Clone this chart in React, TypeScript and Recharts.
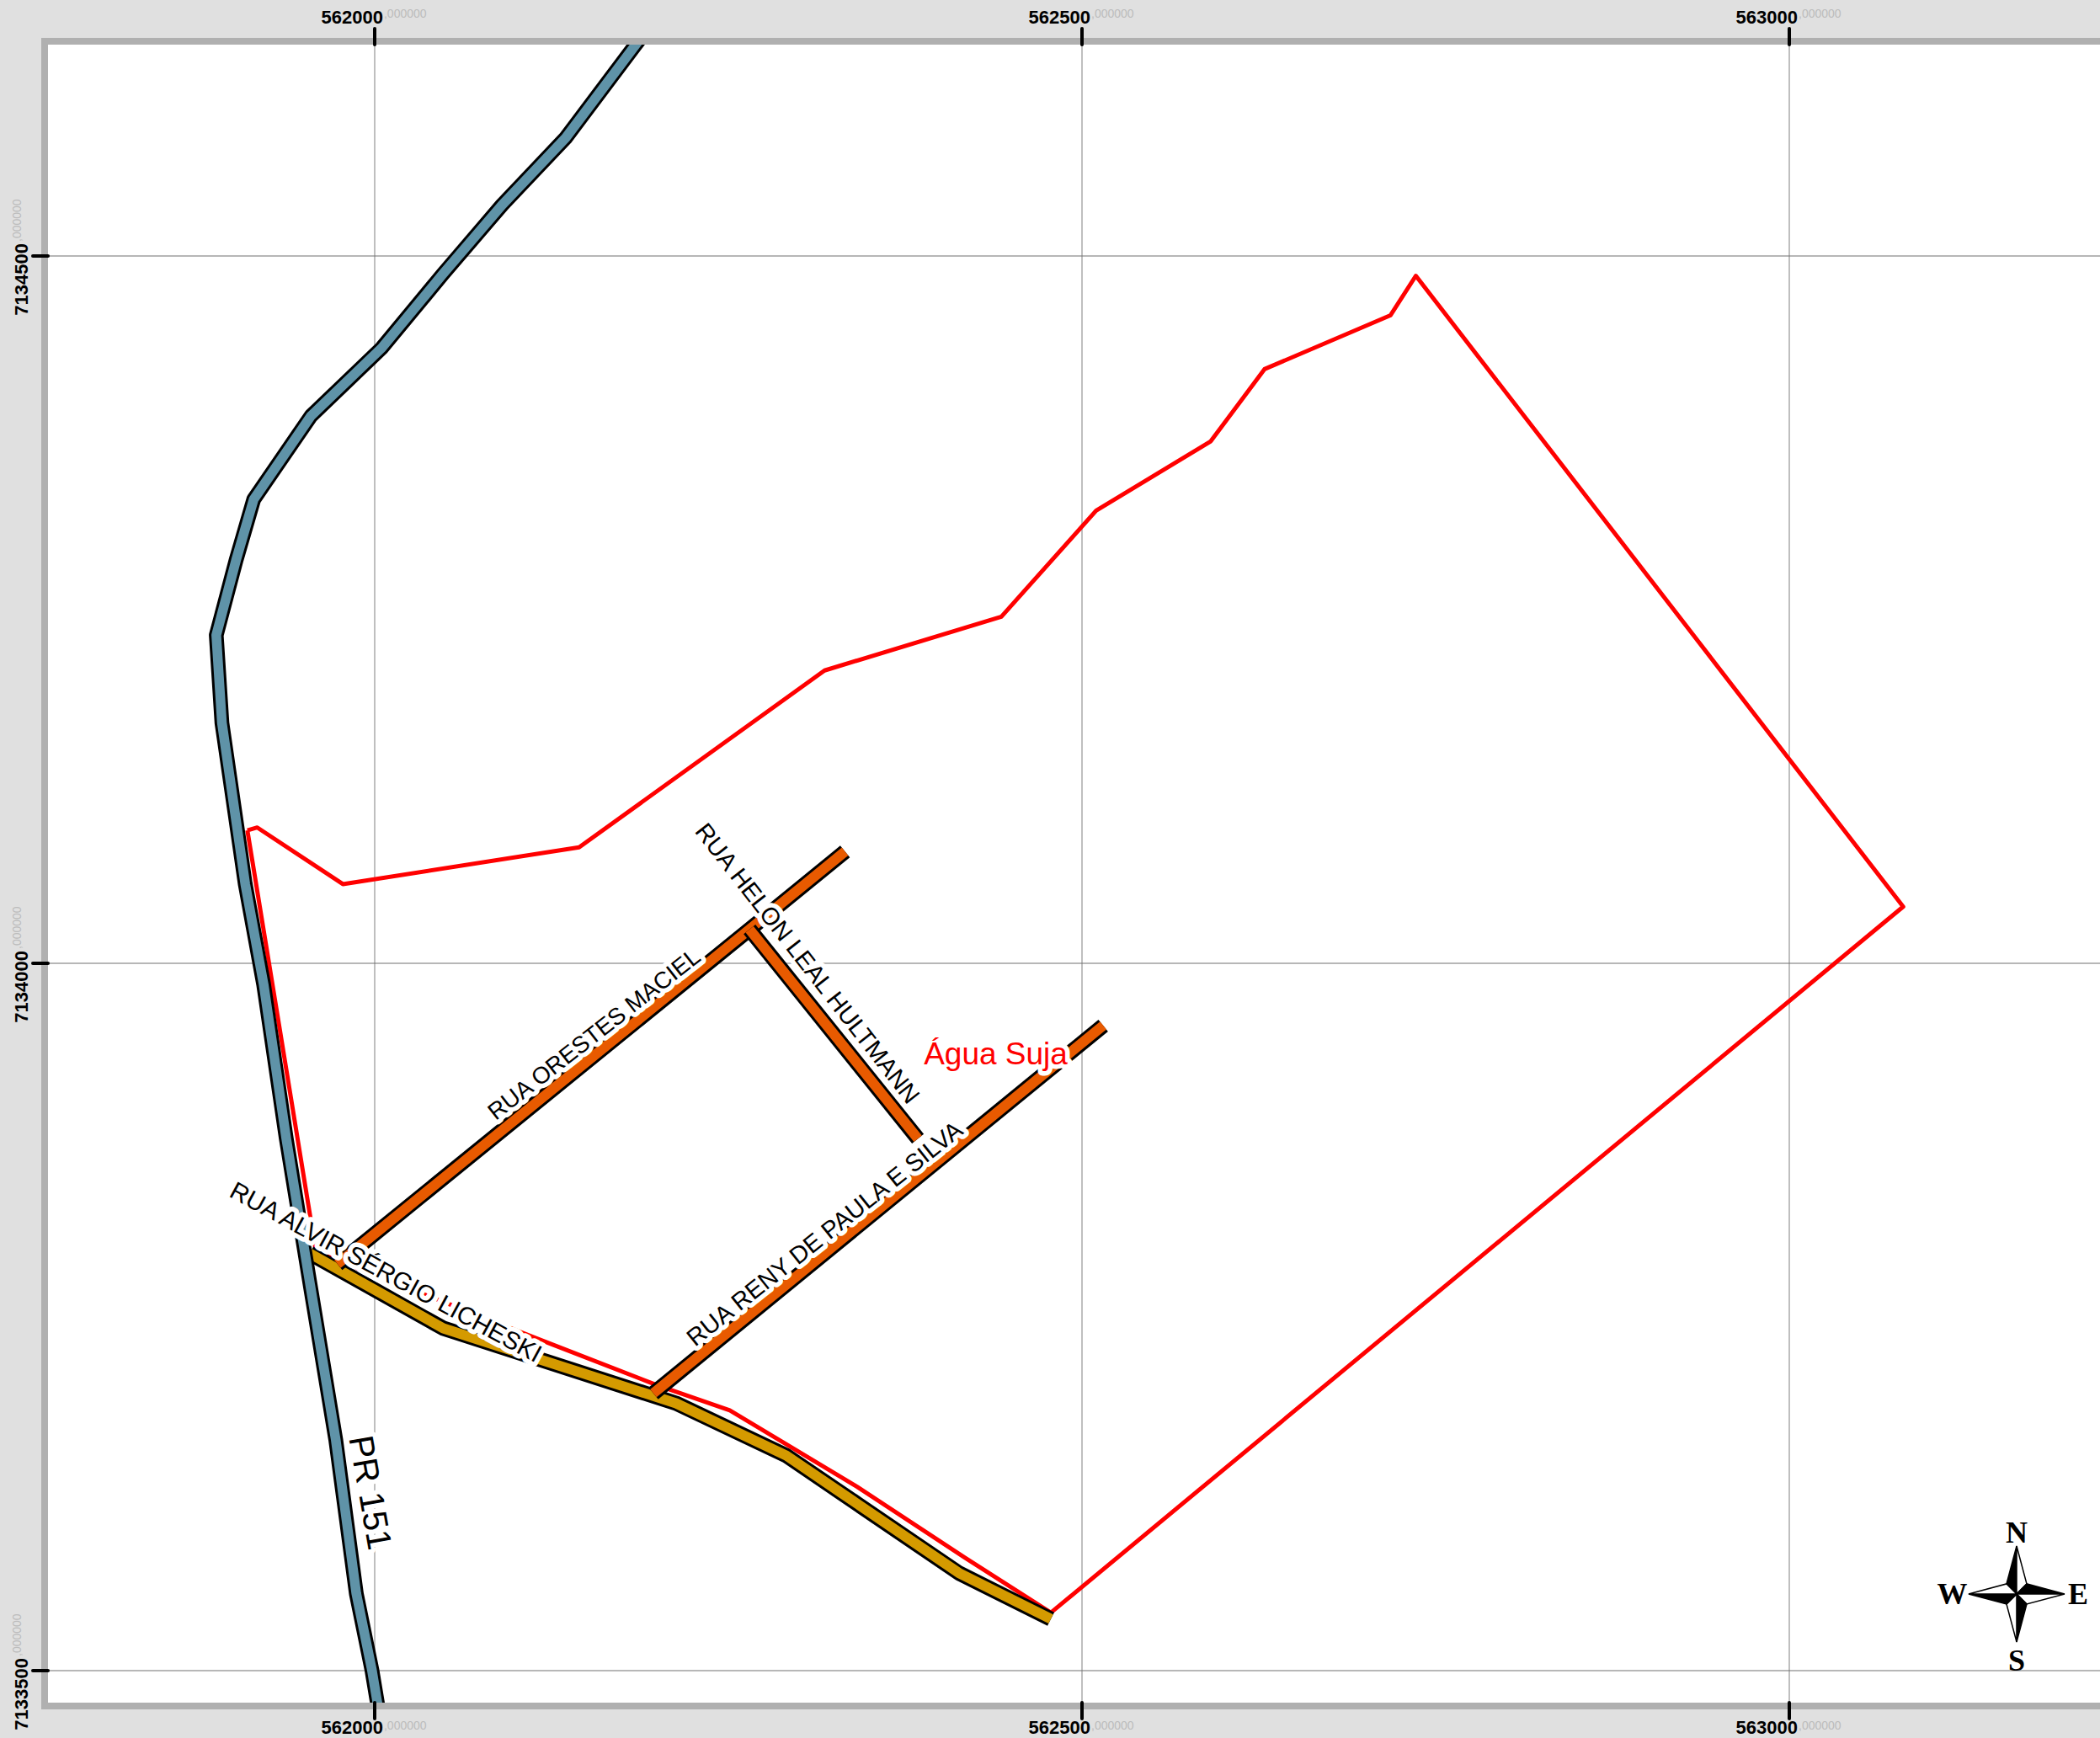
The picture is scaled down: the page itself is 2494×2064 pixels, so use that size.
import React from "react";
import {
  LineChart,
  Line,
  XAxis,
  YAxis,
  CartesianGrid,
  ReferenceDot,
} from "recharts";

const xTicks = [562000, 562500, 563000];
const yTicks = [7133500, 7134000, 7134500];

const aguaSuja = [
  { x: 561910, y: 7134094 },
  { x: 561917, y: 7134096 },
  { x: 561977.5, y: 7134056 },
  { x: 562144.5, y: 7134082 },
  { x: 562318, y: 7134207 },
  { x: 562443, y: 7134245 },
  { x: 562510, y: 7134320 },
  { x: 562591, y: 7134369 },
  { x: 562629, y: 7134420 },
  { x: 562718, y: 7134458 },
  { x: 562736, y: 7134486 },
  { x: 563080.5, y: 7134040 },
  { x: 562478, y: 7133541 },
  { x: 562417, y: 7133580 },
  { x: 562341, y: 7133630 },
  { x: 562251, y: 7133684 },
  { x: 562199, y: 7133702 },
  { x: 562114, y: 7133735 },
  { x: 561958.5, y: 7133796 },
  { x: 561910, y: 7134094 },
];

const pr151 = [
  { x: 562194, y: 7134662 },
  { x: 562135, y: 7134583.5 },
  { x: 562090, y: 7134536 },
  { x: 562048, y: 7134487 },
  { x: 562005, y: 7134435 },
  { x: 561955, y: 7134387 },
  { x: 561914.5, y: 7134328 },
  { x: 561902, y: 7134285 },
  { x: 561888, y: 7134232 },
  { x: 561892, y: 7134170 },
  { x: 561908.5, y: 7134056 },
  { x: 561921.5, y: 7133985 },
  { x: 561937.5, y: 7133876 },
  { x: 561954.5, y: 7133772 },
  { x: 561972.5, y: 7133663 },
  { x: 561987, y: 7133554.5 },
  { x: 561998, y: 7133500.6 },
  { x: 562004, y: 7133464.6 },
];

const ruaAlvir = [
  { x: 561954, y: 7133795 },
  { x: 562048.5, y: 7133742 },
  { x: 562213, y: 7133689 },
  { x: 562291, y: 7133652 },
  { x: 562413, y: 7133569 },
  { x: 562478, y: 7133536.5 },
];

const ruaOrestes = [
  { x: 561973.7, y: 7133787.4 },
  { x: 562265, y: 7134024 },
  { x: 562332.5, y: 7134079 },
];

const ruaHelon = [
  { x: 562265, y: 7134024 },
  { x: 562384, y: 7133876 },
];

const ruaReny = [
  { x: 562197, y: 7133696 },
  { x: 562515, y: 7133956 },
];

const mapLabels = [
  { text: "RUA ORESTES MACIEL", x: 562155, y: 7133950, angle: -38, size: 28 },
  { text: "RUA HELON LEAL HULTMANN", x: 562306, y: 7134000, angle: 52, size: 29 },
  { text: "RUA RENY DE PAULA E SILVA", x: 562318, y: 7133809, angle: -38.5, size: 29 },
  { text: "RUA ALVIR SÉRGIO LICHESKI", x: 562008, y: 7133782, angle: 28.5, size: 29.5 },
  { text: "PR 151", x: 561997, y: 7133626, angle: 80, size: 41 },
];

const FONT = "'Liberation Sans', Arial, sans-serif";
const GOLD = "#d49a00";
const ORANGE = "#e85a00";
const TEAL = "#5f93a8";

const xDomain = [561769.05, 563219.64];
const yDomain = [7133477.38, 7134649.4];

function XTick({ x, y, payload, side }: any) {
  const bold = side === "top" ? y - 6 : y + 18;
  const small = side === "top" ? y - 13 : y + 13;
  return (
    <g fontFamily={FONT}>
      <text x={x + 10} y={bold} textAnchor="end" fontSize={22} fontWeight="bold" fill="#000">
        {payload.value}
      </text>
      <text x={x + 11} y={small} fontSize={14} fill="#bcbcbc">
        ,000000
      </text>
    </g>
  );
}

function YTick({ x, y, payload }: any) {
  return (
    <g fontFamily={FONT}>
      <text
        transform={`translate(${x - 6},${y - 15}) rotate(-90)`}
        textAnchor="end"
        fontSize={22}
        fontWeight="bold"
        fill="#000"
      >
        {payload.value}
      </text>
      <text transform={`translate(${x - 14},${y - 17}) rotate(-90)`} fontSize={14} fill="#bcbcbc">
        ,000000
      </text>
    </g>
  );
}

function RoadLabel({ cx, cy, text, angle, size, color }: any) {
  return (
    <text
      transform={`translate(${cx},${cy}) rotate(${angle})`}
      textAnchor="middle"
      dominantBaseline="central"
      fontFamily={FONT}
      fontSize={size}
      fill={color}
      stroke="#fff"
      strokeWidth={11}
      strokeLinejoin="round"
      style={{ paintOrder: "stroke" }}
    >
      {text}
    </text>
  );
}

function Compass({ cx, cy }: any) {
  const r = 57;
  const k = 12;
  const arm = (px: number, py: number, qx: number, qy: number, fill: string) => (
    <polygon
      points={`${px},${py} ${qx},${qy} 0,0`}
      fill={fill}
      stroke="#000"
      strokeWidth={1.5}
      strokeLinejoin="miter"
    />
  );
  const serif = { fontFamily: "'Liberation Serif', serif", fontWeight: "bold", fontSize: 36, textAnchor: "middle" } as any;
  return (
    <g transform={`translate(${cx},${cy})`}>
      {arm(0, -r, -k, -k, "#000")}
      {arm(0, -r, k, -k, "#fff")}
      {arm(r, 0, k, -k, "#000")}
      {arm(r, 0, k, k, "#fff")}
      {arm(0, r, k, k, "#000")}
      {arm(0, r, -k, k, "#fff")}
      {arm(-r, 0, -k, k, "#000")}
      {arm(-r, 0, -k, -k, "#fff")}
      <text x={0} y={-61} {...serif}>N</text>
      <text x={0} y={91} {...serif}>S</text>
      <text x={-76.5} y={12} {...serif}>W</text>
      <text x={73} y={12} {...serif}>E</text>
    </g>
  );
}

const roadLine = (key: string, data: any[], stroke: string, width: number) => (
  <Line
    key={key}
    data={data}
    dataKey="y"
    stroke={stroke}
    strokeWidth={width}
    strokeLinejoin="round"
    dot={false}
    activeDot={false}
    legendType="none"
    isAnimationActive={false}
  />
);

export default function App() {
  return (
    <div style={{ position: "absolute", left: 0, top: 0, width: 2494, height: 2064, background: "#e0e0e0", overflow: "hidden" }}>
      <div
        style={{
          position: "absolute",
          left: 49,
          top: 45,
          width: 2494,
          height: 1969,
          background: "#fff",
          border: "8px solid #b0b0b0",
        }}
      />
      <div style={{ position: "absolute", left: 0, top: 0 }}>
        <LineChart width={2494} height={2064} margin={{ top: 0, right: 0, bottom: 0, left: 0 }}>
          <CartesianGrid horizontal={false} verticalValues={xTicks} stroke="#aaaaaa" strokeWidth={1.5} />
          <CartesianGrid vertical={false} horizontalValues={yTicks} stroke="#707070" strokeWidth={1.2} />
          <XAxis
            type="number"
            dataKey="x"
            domain={xDomain}
            ticks={xTicks}
            interval={0}
            height={42}
            allowDataOverflow
            axisLine={false}
            tickSize={19}
            tickMargin={0}
            tickLine={{ stroke: "#000", strokeWidth: 4, strokeLinecap: "round" }}
            tick={<XTick side="bottom" />}
          />
          <XAxis
            xAxisId="top"
            orientation="top"
            type="number"
            dataKey="x"
            domain={xDomain}
            ticks={xTicks}
            interval={0}
            height={53}
            allowDataOverflow
            axisLine={false}
            tickSize={19}
            tickMargin={0}
            tickLine={{ stroke: "#000", strokeWidth: 4, strokeLinecap: "round" }}
            tick={<XTick side="top" />}
          />
          <YAxis
            type="number"
            domain={yDomain}
            ticks={yTicks}
            interval={0}
            width={57}
            allowDataOverflow
            axisLine={false}
            tickSize={18}
            tickMargin={0}
            tickLine={{ stroke: "#000", strokeWidth: 4, strokeLinecap: "round" }}
            tick={<YTick />}
          />
          {roadLine("agua", aguaSuja, "#ff0000", 5)}
          {roadLine("alvir-case", ruaAlvir, "#000", 18)}
          {roadLine("alvir", ruaAlvir, GOLD, 12)}
          {roadLine("orestes-case", ruaOrestes, "#000", 18)}
          {roadLine("orestes", ruaOrestes, ORANGE, 12)}
          {roadLine("helon-case", ruaHelon, "#000", 18)}
          {roadLine("helon", ruaHelon, ORANGE, 12)}
          {roadLine("reny-case", ruaReny, "#000", 18)}
          {roadLine("reny", ruaReny, ORANGE, 12)}
          {roadLine("pr-case", pr151, "#000", 17.5)}
          {roadLine("pr", pr151, TEAL, 11.5)}
          {mapLabels.map((l) => (
            <ReferenceDot
              key={l.text}
              x={l.x}
              y={l.y}
              r={1}
              ifOverflow="visible"
              shape={(p: any) => (
                <RoadLabel cx={p.cx} cy={p.cy} text={l.text} angle={l.angle} size={l.size} color="#000" />
              )}
            />
          ))}
          <ReferenceDot
            x={562439}
            y={7133936}
            r={1}
            ifOverflow="visible"
            shape={(p: any) => <RoadLabel cx={p.cx} cy={p.cy} text="Água Suja" angle={0} size={37} color="#ff0000" />}
          />
          <ReferenceDot
            x={563160.7}
            y={7133554.2}
            r={1}
            ifOverflow="visible"
            shape={(p: any) => <Compass cx={p.cx} cy={p.cy} />}
          />
        </LineChart>
      </div>
    </div>
  );
}
